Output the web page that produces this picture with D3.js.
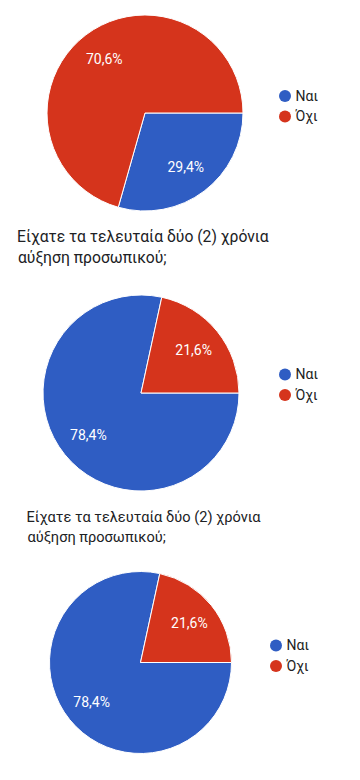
<!DOCTYPE html>
<html>
<head>
<meta charset="utf-8">
<script src="https://cdn.jsdelivr.net/npm/d3@7"></script>
<style>
  html, body { margin: 0; padding: 0; background: #ffffff; }
  svg { display: block; }
</style>
</head>
<body>
<svg id="chart" width="360" height="780"></svg>
<script>
// ---- Data ----
const categories = ["Ναι", "Όχι"];
const chart1Values = [29.4, 70.6];
const chart2Values = [78.4, 21.6];
const chart3Values = [78.4, 21.6];
const titleLines = ["Είχατε τα τελευταία δύο (2) χρόνια", "αύξηση προσωπικού;"];
const colors = ["#2f5dc3", "#d5341c"];

// ---- Layout ----
const svg = d3.select("#chart");
const fontFamily = "Roboto, 'Noto Sans', Arial, sans-serif";

const color = d3.scaleOrdinal().domain(categories).range(colors);

const panels = [
  { values: chart1Values, cx: 145, cy: 113, r: 98, legendX: 285, legendY: 96, title: null },
  { values: chart2Values, cx: 141, cy: 393, r: 98, legendX: 285, legendY: 374.5,
    title: { x: 17, y: 242, size: 15.7, gap: 20.5 } },
  { values: chart3Values, cx: 140.5, cy: 662.5, r: 91, legendX: 276, legendY: 645.5,
    title: { x: 26.5, y: 522, size: 14.6, gap: 20 } }
];

const pie = d3.pie()
  .sort(null)
  .value(d => d.value)
  .startAngle(Math.PI / 2)
  .endAngle(Math.PI / 2 + 2 * Math.PI);

panels.forEach(p => {
  const data = categories.map((c, i) => ({ cat: c, value: p.values[i] }));

  if (p.title) {
    const t = svg.append("text")
      .attr("font-family", fontFamily)
      .attr("font-size", p.title.size)
      .attr("fill", "#202124");
    titleLines.forEach((line, i) => {
      t.append("tspan")
        .attr("x", p.title.x + (i === 1 ? 1 : 0))
        .attr("y", p.title.y + i * p.title.gap)
        .text(line);
    });
  }

  const g = svg.append("g").attr("transform", `translate(${p.cx},${p.cy})`);
  const arc = d3.arc().innerRadius(0).outerRadius(p.r);
  const labelArc = d3.arc().innerRadius(p.r * 0.69).outerRadius(p.r * 0.69);

  const arcs = pie(data);
  g.selectAll("path.slice")
    .data(arcs)
    .join("path")
    .attr("class", "slice")
    .attr("d", arc)
    .attr("fill", d => color(d.data.cat))
    .attr("stroke", "#ffffff")
    .attr("stroke-width", 1);

  g.selectAll("text.lbl")
    .data(arcs)
    .join("text")
    .attr("class", "lbl")
    .attr("transform", d => `translate(${labelArc.centroid(d)})`)
    .attr("text-anchor", "middle")
    .attr("dy", "0.35em")
    .attr("font-family", fontFamily)
    .attr("font-size", 14)
    .attr("fill", "#ffffff")
    .text(d => d3.format(".1f")(d.data.value).replace(".", ",") + "%");

  const lg = svg.append("g").attr("transform", `translate(${p.legendX},${p.legendY})`);
  const items = lg.selectAll("g.item")
    .data(categories)
    .join("g")
    .attr("class", "item")
    .attr("transform", (d, i) => `translate(0,${i * 20.5})`);
  items.append("circle")
    .attr("r", 6)
    .attr("fill", d => color(d));
  items.append("text")
    .attr("x", 10.5)
    .attr("dy", "0.35em")
    .attr("font-family", fontFamily)
    .attr("font-size", 14)
    .attr("fill", "#222222")
    .text(d => d);
});
</script>
</body>
</html>
